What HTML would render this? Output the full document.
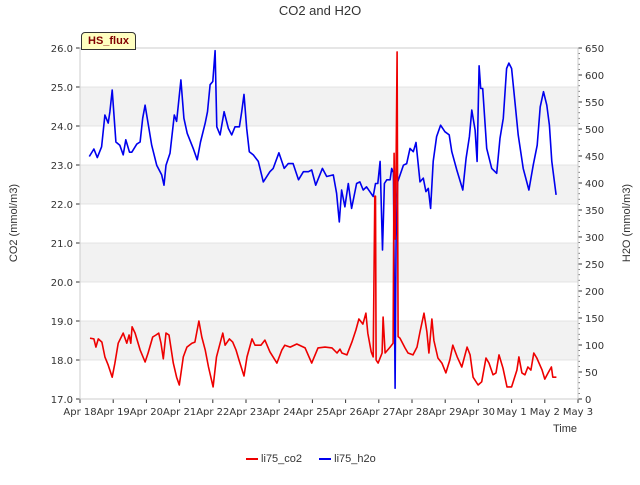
<!DOCTYPE html>
<html><head><meta charset="utf-8"><style>
body{margin:0;background:#fff;font-family:"Liberation Sans","DejaVu Sans",sans-serif;}
svg text{font-family:"DejaVu Sans","Liberation Sans",sans-serif;}
</style></head><body>
<svg id="c" width="640" height="480" xmlns="http://www.w3.org/2000/svg"></svg>
<script>
const xTickLabels=["Apr 18","Apr 19","Apr 20","Apr 21","Apr 22","Apr 23","Apr 24","Apr 25","Apr 26","Apr 27","Apr 28","Apr 29","Apr 30","May 1","May 2","May 3"];
const yLeftTicks=[17,18,19,20,21,22,23,24,25,26];
const yRightTicks=[0,50,100,150,200,250,300,350,400,450,500,550,600,650];
const co2T=[0.3,0.42,0.48,0.55,0.66,0.75,0.85,0.97,1.05,1.15,1.3,1.41,1.48,1.53,1.57,1.66,1.81,1.96,2.05,2.19,2.29,2.37,2.44,2.51,2.59,2.68,2.81,2.91,2.99,3.11,3.22,3.37,3.46,3.58,3.67,3.77,3.87,4.01,4.11,4.22,4.3,4.37,4.5,4.6,4.7,4.79,4.94,5.03,5.18,5.27,5.45,5.57,5.72,5.93,6.08,6.17,6.33,6.53,6.78,6.98,7.17,7.38,7.59,7.74,7.83,7.89,8.04,8.19,8.31,8.4,8.52,8.61,8.67,8.77,8.83,8.88,8.9,8.92,8.98,9.1,9.13,9.19,9.34,9.43,9.46,9.49,9.52,9.55,9.58,9.64,9.79,9.88,10.03,10.15,10.24,10.36,10.45,10.51,10.6,10.66,10.78,10.9,11.02,11.14,11.23,11.36,11.5,11.66,11.75,11.84,11.99,12.1,12.23,12.32,12.44,12.53,12.62,12.74,12.86,13.0,13.16,13.22,13.31,13.4,13.49,13.58,13.67,13.76,13.92,14.0,14.1,14.2,14.24,14.35];
const co2V=[18.56,18.54,18.33,18.54,18.46,18.08,17.87,17.56,17.92,18.43,18.69,18.43,18.64,18.43,18.85,18.69,18.26,17.95,18.18,18.59,18.64,18.69,18.43,18.03,18.69,18.64,17.92,17.56,17.36,18.08,18.33,18.43,18.46,19.0,18.59,18.26,17.82,17.31,18.08,18.43,18.69,18.38,18.54,18.46,18.26,18.0,17.59,18.08,18.54,18.38,18.38,18.51,18.21,17.92,18.26,18.38,18.33,18.41,18.31,17.92,18.31,18.33,18.31,18.18,18.28,18.18,18.13,18.46,18.77,19.05,18.92,19.2,18.69,18.21,18.08,22.2,22.2,18.0,17.92,18.18,19.1,18.18,18.33,18.43,23.3,21.1,23.0,25.9,18.6,18.56,18.31,18.18,18.13,18.33,18.72,19.2,18.72,18.18,19.05,18.5,18.05,17.92,17.67,18.0,18.38,18.08,17.82,18.33,18.13,17.56,17.36,17.44,18.05,17.92,17.62,17.67,18.13,17.79,17.31,17.31,17.74,18.08,17.67,17.62,17.82,17.74,18.18,18.05,17.74,17.51,17.67,17.82,17.56,17.56];
const h2oT=[0.28,0.42,0.52,0.65,0.75,0.85,0.9,0.97,1.08,1.2,1.3,1.38,1.49,1.56,1.71,1.81,1.89,1.96,2.06,2.16,2.31,2.46,2.53,2.59,2.71,2.84,2.91,2.96,3.04,3.13,3.23,3.41,3.53,3.63,3.77,3.84,3.92,4.0,4.07,4.12,4.22,4.34,4.47,4.57,4.67,4.8,4.87,4.94,5.02,5.1,5.22,5.37,5.52,5.72,5.82,5.99,6.15,6.27,6.42,6.58,6.73,6.88,6.98,7.1,7.3,7.43,7.63,7.73,7.81,7.88,7.98,8.08,8.18,8.33,8.43,8.53,8.63,8.73,8.83,8.9,8.97,9.04,9.11,9.17,9.24,9.34,9.39,9.44,9.49,9.52,9.57,9.74,9.84,9.94,10.04,10.12,10.24,10.34,10.42,10.49,10.56,10.64,10.74,10.86,10.99,11.12,11.2,11.35,11.53,11.63,11.73,11.8,11.9,11.96,12.02,12.07,12.13,12.25,12.4,12.55,12.65,12.75,12.85,12.92,13.0,13.1,13.2,13.35,13.52,13.65,13.77,13.86,13.96,14.06,14.14,14.21,14.34];
const h2oV=[449,463,447,467,526,511,532,572,476,470,452,480,457,457,472,476,520,544,507,470,433,415,396,433,455,526,514,544,591,520,492,464,443,476,511,532,582,588,645,504,489,532,501,489,504,504,532,564,501,458,452,440,402,421,427,456,427,436,436,406,421,421,424,396,427,412,415,381,328,387,356,399,353,399,402,387,393,384,375,399,399,440,276,399,406,406,427,419,20,300,402,433,436,464,458,475,402,409,384,390,353,440,486,507,495,489,458,424,387,446,486,535,498,440,617,575,575,464,427,418,483,520,612,622,612,551,489,427,387,433,470,541,569,544,507,440,378];

const svg=document.getElementById('c');const NS='http://www.w3.org/2000/svg';
function el(tag,attrs,parent){const e=document.createElementNS(NS,tag);for(const k in attrs)e.setAttribute(k,attrs[k]);(parent||svg).appendChild(e);return e;}
const X0=80,X1=578,Y0=399,Y1=48;
const xs=t=>X0+(X1-X0)*t/15;
const yl=v=>Y0-(Y0-Y1)*(v-17)/9;
const yr=v=>Y0-(Y0-Y1)*v/650;
for(let v=18;v<26;v+=2){const r=el('rect',{x:X0,y:yl(v+1),width:X1-X0,height:yl(v)-yl(v+1),fill:'#f2f2f2'});

}
yLeftTicks.forEach(v=>{const l=el('line',{x1:X0,x2:X1,y1:yl(v),y2:yl(v),stroke:'#dcdcdc','stroke-width':0.8});


el('line',{x1:X0-4,x2:X0,y1:yl(v),y2:yl(v),stroke:'#333'});
const t=el('text',{x:X0-7,y:yl(v)+4,'text-anchor':'end','font-size':10,fill:'#333'});t.textContent=v.toFixed(1);

});
yRightTicks.forEach(v=>{el('line',{x1:X1,x2:X1+4,y1:yr(v),y2:yr(v),stroke:'#333'});
const t=el('text',{x:X1+7,y:yr(v)+4,'font-size':10,fill:'#333'});t.textContent=v;

});
for(let v=0;v<=650;v+=10){el('line',{x1:X1,x2:X1+2,y1:yr(v),y2:yr(v),stroke:'#333','stroke-width':0.6});}
xTickLabels.forEach((s,i)=>{el('line',{x1:xs(i),x2:xs(i),y1:Y0,y2:Y0+4,stroke:'#333'});
const t=el('text',{x:xs(i),y:Y0+16,'text-anchor':'middle','font-size':10,fill:'#333'});t.textContent=s;

});
el('rect',{x:X0,y:Y1,width:X1-X0,height:Y0-Y1,fill:'none',stroke:'#ccc'});
function line(T,V,f,color,name){const d=T.map((t,i)=>(i?'L':'M')+xs(t).toFixed(1)+' '+f(V[i]).toFixed(1)).join(' ');
const p=el('path',{d:d,fill:'none',stroke:color,'stroke-width':1.6,'stroke-linejoin':'round'});

}
line(h2oT,h2oV,yr,'#0000ee','h2o-line');
line(co2T,co2V,yl,'#ee0000','co2-line');
</script>
<div style="position:absolute;left:0;top:0;width:640px;height:480px;pointer-events:none">
<div style="position:absolute;top:3px;width:640px;text-align:center;font-size:13px;color:#333">CO2 and H2O</div>
<div style="position:absolute;left:81px;top:32px;padding:2px 6px;background:#ffffc0;border:1px solid #333;border-radius:4px 4px 0 0;font-size:11px;font-weight:bold;color:#800000">HS_flux</div>
<div style="position:absolute;left:-36px;top:217px;width:100px;text-align:center;transform:rotate(-90deg);font-size:11px;color:#333">CO2 (mmol/m3)</div>
<div style="position:absolute;left:577px;top:217px;width:100px;text-align:center;transform:rotate(-90deg);font-size:11px;color:#333">H2O (mmol/m3)</div>
<div style="position:absolute;left:553px;top:423px;font-size:11px;color:#333">Time</div>
<div style="position:absolute;left:246px;top:453px;font-size:11px;color:#333">
<span><span style="display:inline-block;width:12px;border-top:2px solid #e00;vertical-align:middle"></span> li75_co2</span>
<span style="margin-left:14px"><span style="display:inline-block;width:12px;border-top:2px solid #00e;vertical-align:middle"></span> li75_h2o</span>
</div></div>
</body></html>
